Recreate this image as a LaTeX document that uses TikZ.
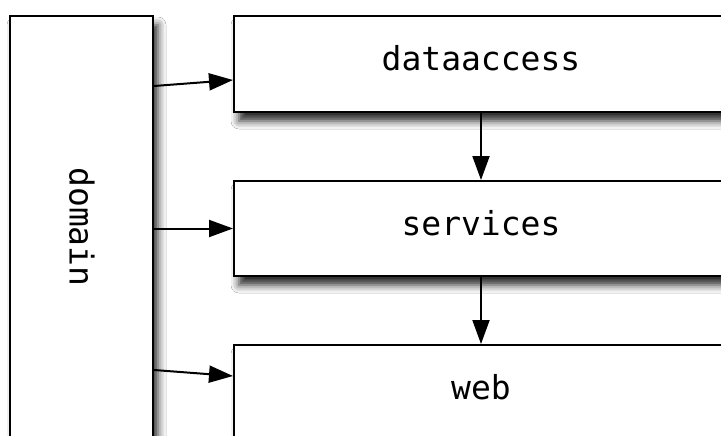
\documentclass[tikz,border=0pt]{standalone}
\usepackage{fontspec}
\setmonofont{DejaVu Sans Mono}
\usetikzlibrary{arrows.meta,shadows.blur}
\tikzset{
  layer/.style={draw=black, line width=2pt, fill=white, inner sep=0pt,
    font=\ttfamily\fontsize{33}{38}\selectfont, text depth=12pt,
    blur shadow={shadow xshift=5pt, shadow yshift=-9pt, shadow blur radius=8pt, shadow opacity=85}},
  dep/.style={line width=2pt, -{Triangle[length=24pt,width=17pt]}}
}
\begin{document}
\begin{tikzpicture}[x=1pt,y=-1pt]
\useasboundingbox (0,0) rectangle (721,436);
\clip (0,0) rectangle (721,436);
\fill[white] (0,0) rectangle (721,436);
\node[layer, anchor=north west, minimum width=143pt, minimum height=425pt] (dom) at (9,15) {};
\node[font=\ttfamily\fontsize{33}{38}\selectfont, rotate=-90] (domt) at (82,227) {domain};
\node[layer, anchor=north west, minimum width=494pt, minimum height=96pt] (da) at (233,15) {dataaccess};
\node[layer, anchor=north west, minimum width=494pt, minimum height=95pt] (sv) at (233,180) {services};
\node[layer, anchor=north west, minimum width=494pt, minimum height=95pt] (web) at (233,344) {web};
\draw[dep] (da.south) -- (sv.north);
\draw[dep] (sv.south) -- (web.north);
\draw[dep] ([yshift=-71pt]dom.north east) -- ([yshift=-65pt]da.north west);
\draw[dep] (dom.east |- sv.west) -- (sv.west);
\draw[dep] ([yshift=-355pt]dom.north east) -- ([yshift=-32pt]web.north west);
\end{tikzpicture}
\end{document}
